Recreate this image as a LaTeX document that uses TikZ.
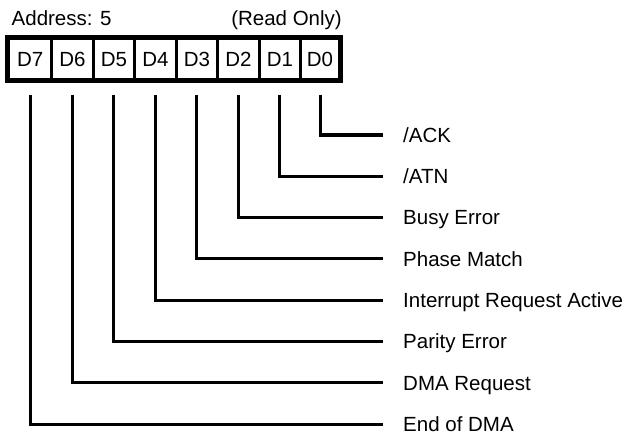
\documentclass[tikz,border=0pt]{standalone}
\usepackage{fontspec}
\setmainfont{Liberation Sans}
\begin{document}
\begin{tikzpicture}[x=1pt,y=-1pt,
  txt/.style={font=\fontsize{20.5}{22}\selectfont, inner sep=0pt, text height=14.7pt, text depth=0pt},
  cell/.style={draw, line width=3.3pt, minimum height=41pt, inner sep=0pt, font=\fontsize{20.5}{22}\selectfont},
  conn/.style={line width=3pt},
  lbl/.style={txt, anchor=west}]
\useasboundingbox (0,0) rectangle (626,433);
% header texts
\node[txt, anchor=base west] (addr) at (11.5,25.5) {Address: 5};
\node[txt, anchor=base east] (ro) at (342,25.5) {(Read Only)};
% register cells
\node[cell, minimum width=43pt] (c7) at (30.2,59.2) {D7};
\node[cell, minimum width=41.5pt] (c6) at (72.45,59.2) {D6};
\node[cell, minimum width=41.5pt] (c5) at (113.95,59.2) {D5};
\node[cell, minimum width=41.5pt] (c4) at (155.45,59.2) {D4};
\node[cell, minimum width=41.5pt] (c3) at (196.95,59.2) {D3};
\node[cell, minimum width=41.5pt] (c2) at (238.45,59.2) {D2};
\node[cell, minimum width=41.5pt] (c1) at (279.95,59.2) {D1};
\node[cell, minimum width=38.6pt] (c0) at (320,59.2) {D0};
\draw[line width=4pt] (c7.north west) rectangle (c0.south east);
% labels
\node[lbl] (l0) at (403,135) {/ACK};
\node[lbl] (l1) at (403,176.3) {/ATN};
\node[lbl] (l2) at (403,217.6) {Busy Error};
\node[lbl] (l3) at (403,258.9) {Phase Match};
\node[lbl] (l4) at (403,300.2) {Interrupt Request Active};
\node[lbl] (l5) at (403,341.5) {Parity Error};
\node[lbl] (l6) at (403,382.8) {DMA Request};
\node[lbl] (l7) at (403,424.1) {End of DMA};
% connectors
\foreach \k in {0,...,7}{
  \draw[conn] ([yshift=-13.3pt]c\k.south) |- ([xshift=-20pt]l\k.west);
}
\end{tikzpicture}
\end{document}
